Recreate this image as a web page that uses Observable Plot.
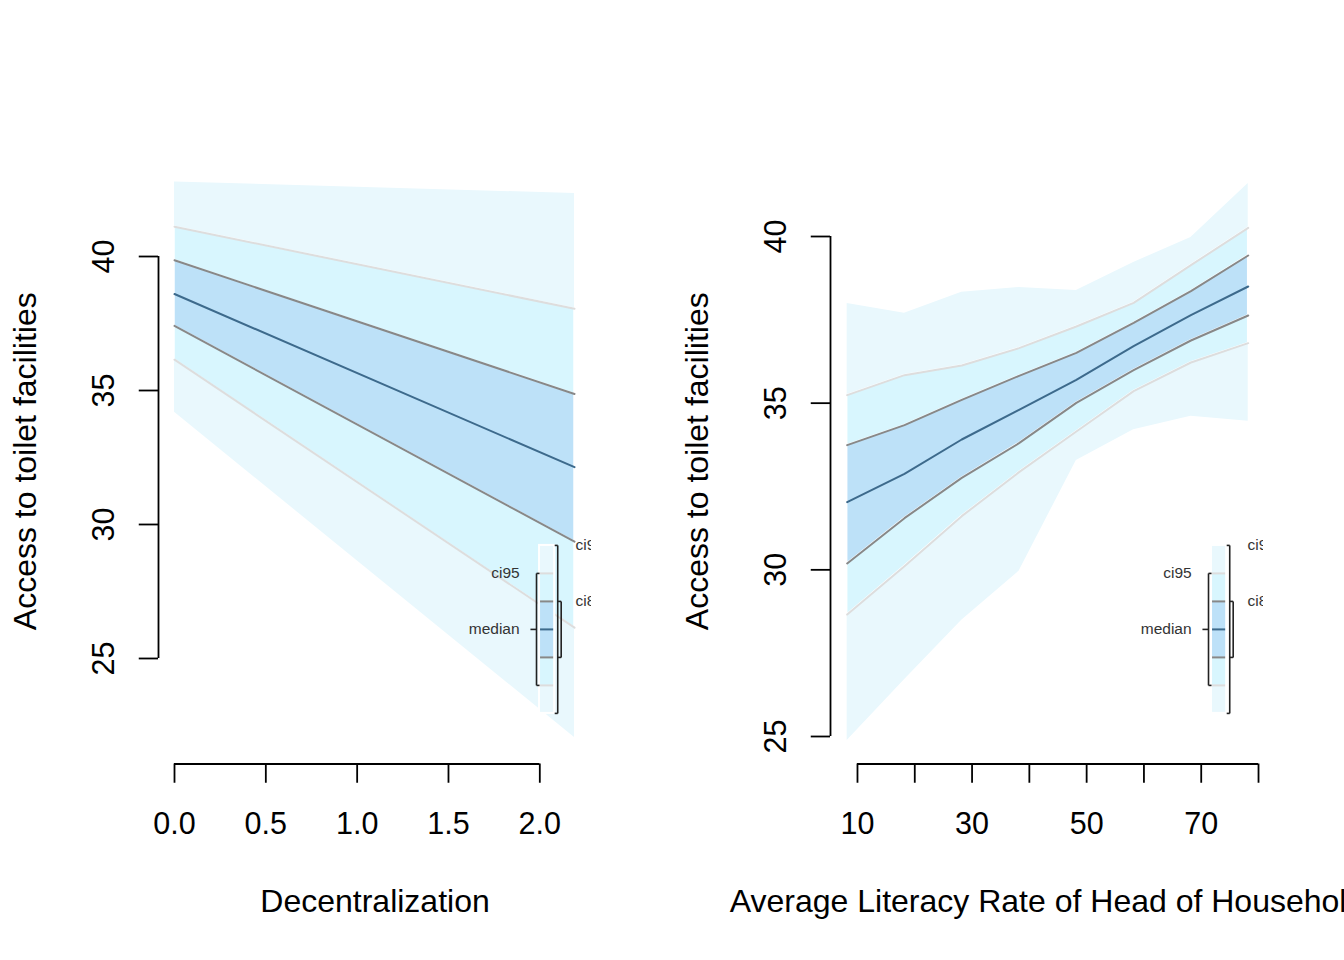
<!DOCTYPE html>
<html>
<head>
<meta charset="utf-8">
<script src="https://cdn.jsdelivr.net/npm/d3@7"></script>
<script src="https://cdn.jsdelivr.net/npm/@observablehq/plot@0.6"></script>
<style>
  html, body { margin: 0; padding: 0; background: white; overflow: hidden; }
  #wrap { display: flex; width: 1344px; height: 960px; }
  #wrap svg { overflow: hidden; max-width: none; }
</style>
</head>
<body>
<div id="wrap"></div>
<script>
// ---------- Data: left panel (Decentralization) ----------
const decentX      = [0, 2.19];
const decentMedian = [38.60, 32.14];
const decentLo80   = [37.41, 29.36];
const decentHi80   = [39.86, 34.87];
const decentLo95   = [36.15, 26.15];
const decentHi95   = [41.11, 38.05];
const decentLo99   = [34.19, 22.05];
const decentHi99   = [42.78, 42.35];

// ---------- Data: right panel (Average Literacy Rate) ----------
const literacyX      = [8.2, 18.2, 28.2, 38.2, 48.2, 58.2, 68.2, 78.2];
const literacyMedian = [32.03, 32.88, 33.91, 34.80, 35.70, 36.71, 37.64, 38.50];
const literacyLo80   = [30.19, 31.55, 32.76, 33.80, 35.01, 35.99, 36.88, 37.63];
const literacyHi80   = [33.74, 34.34, 35.10, 35.82, 36.51, 37.41, 38.36, 39.43];
const literacyLo95   = [28.66, 30.11, 31.61, 32.93, 34.15, 35.36, 36.22, 36.80];
const literacyHi95   = [35.24, 35.84, 36.13, 36.65, 37.30, 38.01, 39.14, 40.26];
const literacyLo99   = [24.88, 26.70, 28.49, 29.96, 33.28, 34.20, 34.61, 34.46];
const literacyHi99   = [37.99, 37.70, 38.33, 38.47, 38.38, 39.22, 39.97, 41.59];

// ---------- Axis ticks & labels ----------
const decentXTicks   = [0, 0.5, 1, 1.5, 2];
const decentXLabels  = ["0.0", "0.5", "1.0", "1.5", "2.0"];
const decentYTicks   = [25, 30, 35, 40];
const literacyXTicks  = [10, 20, 30, 40, 50, 60, 70, 80];
const literacyXLabels = ["10", "", "30", "", "50", "", "70", ""];
const literacyYTicks  = [25, 30, 35, 40];

const yTitle = "Access to toilet facilities";
const decentTitle = "Decentralization";
const literacyTitle = "Average Literacy Rate of Head of Household";

// legend labels
const legendLabels = { ci99: "ci99", ci95: "ci95", median: "median", ci80: "ci80" };

// ---------- Style ----------
const C = {
  fill99: "#e9f8fd", fill95: "#d8f6fe", fill80: "#bde1f8",
  line95: "#dddddd", line80: "#888888", median: "#3d6a8c"
};
const FONT = "Liberation Sans, Arial, Helvetica, sans-serif";

function panel(o) {
  const rows = o.xs.map((x, i) => ({
    x, med: o.med[i], lo80: o.lo80[i], hi80: o.hi80[i],
    lo95: o.lo95[i], hi95: o.hi95[i], lo99: o.lo99[i], hi99: o.hi99[i]
  }));
  const [x0, x1] = o.xDomain, [y0, y1] = o.yDomain;
  const fx = f => x0 + f * (x1 - x0);
  const fy = f => y1 - f * (y1 - y0);   // fraction from top of frame

  // legend layout (fractions of plot frame)
  const top = 0.639, step = 0.04624;
  const b = d3.range(7).map(k => top + k * step);
  const barL = 0.880, barR = 0.915;
  const segs = [
    {a: b[0], c: b[1], fill: C.fill99}, {a: b[1], c: b[2], fill: C.fill95},
    {a: b[2], c: b[4], fill: C.fill80}, {a: b[4], c: b[5], fill: C.fill95},
    {a: b[5], c: b[6], fill: C.fill99}
  ];
  const legLines = [
    {f: b[1], stroke: C.line95}, {f: b[2], stroke: C.line80}, {f: b[3], stroke: C.median},
    {f: b[4], stroke: C.line80}, {f: b[5], stroke: C.line95}
  ];
  const brk = [];
  const lb = 0.873;
  brk.push([lb, b[1], lb, b[5]], [lb, b[1], barL, b[1]], [lb, b[5], barL, b[5]], [0.859, b[3], lb, b[3]]);
  const ob = 0.922;
  brk.push([ob, b[0], ob, b[6]], [barR, b[0], ob, b[0]], [barR, b[6], ob, b[6]]);
  const ib = 0.930;
  brk.push([ib, b[2], ib, b[4]], [ob, b[2], ib, b[2]], [ob, b[4], ib, b[4]]);
  const legTextL = [{f: b[1], t: legendLabels.ci95}, {f: b[3], t: legendLabels.median}];
  const legTextR = [{f: b[0], t: legendLabels.ci99}, {f: b[2], t: legendLabels.ci80}];

  return Plot.plot({
    width: 672, height: 960,
    marginLeft: 158, marginRight: 81, marginTop: 158, marginBottom: 196.5,
    style: { fontFamily: FONT, background: "white", overflow: "hidden" },
    x: { domain: o.xDomain, axis: null },
    y: { domain: o.yDomain, axis: null },
    marks: [
      Plot.areaY(rows, {x: "x", y1: "lo99", y2: "hi99", fill: C.fill99}),
      Plot.areaY(rows, {x: "x", y1: "lo95", y2: "hi95", fill: C.fill95, stroke: "white", strokeWidth: 1.5}),
      Plot.areaY(rows, {x: "x", y1: "lo80", y2: "hi80", fill: C.fill80, stroke: "white", strokeWidth: 1.5}),
      Plot.line(rows, {x: "x", y: "lo95", stroke: C.line95, strokeWidth: 2}),
      Plot.line(rows, {x: "x", y: "hi95", stroke: C.line95, strokeWidth: 2}),
      Plot.line(rows, {x: "x", y: "lo80", stroke: C.line80, strokeWidth: 2}),
      Plot.line(rows, {x: "x", y: "hi80", stroke: C.line80, strokeWidth: 2}),
      Plot.line(rows, {x: "x", y: "med", stroke: C.median, strokeWidth: 2}),

      // legend
      Plot.rect(segs, {x1: () => fx(barL), x2: () => fx(barR), y1: d => fy(d.a), y2: d => fy(d.c), fill: d => d.fill}),
      Plot.link(legLines, {x1: () => fx(barL), x2: () => fx(barR), y1: d => fy(d.f), y2: d => fy(d.f), stroke: d => d.stroke, strokeWidth: 2}),
      Plot.rect([0], {x1: () => fx(barL), x2: () => fx(barR), y1: () => fy(b[0]), y2: () => fy(b[6]), fill: "none", stroke: "white", strokeWidth: 2}),
      Plot.link(brk, {x1: d => fx(d[0]), y1: d => fy(d[1]), x2: d => fx(d[2]), y2: d => fy(d[3]), stroke: "#222", strokeWidth: 1.6}),
      Plot.text(legTextL, {x: () => fx(0.834), y: d => fy(d.f), text: "t", textAnchor: "end", fontSize: 15.5, fill: "#333"}),
      Plot.text(legTextR, {x: () => fx(0.963), y: d => fy(d.f), text: "t", textAnchor: "start", fontSize: 15.5, fill: "#333", clip: true}),

      // x axis
      Plot.ruleY([y0], {x1: () => o.xTicks[0], x2: () => o.xTicks[o.xTicks.length - 1], stroke: "black", strokeWidth: 1.8}),
      Plot.axisX({ticks: o.xTicks, tickSize: 19.25, tickFormat: () => "", label: null, strokeWidth: 1.8}),
      Plot.text(o.xTicks, {x: d => d, frameAnchor: "bottom", text: (d, i) => o.xLabels[i], dy: 48.8, lineAnchor: "top", textAnchor: "middle", fontSize: 30.5, fill: "black"}),
      Plot.text([o.xTitle], {frameAnchor: "bottom", text: d => d, dy: 137.5, lineAnchor: "middle", textAnchor: "middle", fontSize: 32, fill: "black"}),

      // y axis
      Plot.ruleX([x0], {y1: () => o.yTicks[0], y2: () => o.yTicks[o.yTicks.length - 1], stroke: "black", strokeWidth: 1.8}),
      Plot.axisY({ticks: o.yTicks, tickSize: 19.25, tickFormat: () => "", label: null, strokeWidth: 1.8}),
      Plot.text(o.yTicks, {y: d => d, frameAnchor: "left", text: d => String(d), rotate: -90, dx: -54.5, lineAnchor: "middle", textAnchor: "middle", fontSize: 30.5, fill: "black"}),
      Plot.text([o.yTitle], {frameAnchor: "left", text: d => d, rotate: -90, dx: -133, lineAnchor: "middle", textAnchor: "middle", fontSize: 32, fill: "black"})
    ]
  });
}

const wrap = document.getElementById("wrap");
wrap.appendChild(panel({
  xs: decentX, med: decentMedian, lo80: decentLo80, hi80: decentHi80,
  lo95: decentLo95, hi95: decentHi95, lo99: decentLo99, hi99: decentHi99,
  xDomain: [-0.0876, 2.283], yDomain: [21.063, 43.657],
  xTicks: decentXTicks, xLabels: decentXLabels, yTicks: decentYTicks,
  xTitle: decentTitle, yTitle
}));
wrap.appendChild(panel({
  xs: literacyX, med: literacyMedian, lo80: literacyLo80, hi80: literacyHi80,
  lo95: literacyLo95, hi95: literacyHi95, lo99: literacyLo99, hi99: literacyHi99,
  xDomain: [5.29, 80.87], yDomain: [24.175, 42.34],
  xTicks: literacyXTicks, xLabels: literacyXLabels, yTicks: literacyYTicks,
  xTitle: literacyTitle, yTitle
}));
</script>
</body>
</html>
